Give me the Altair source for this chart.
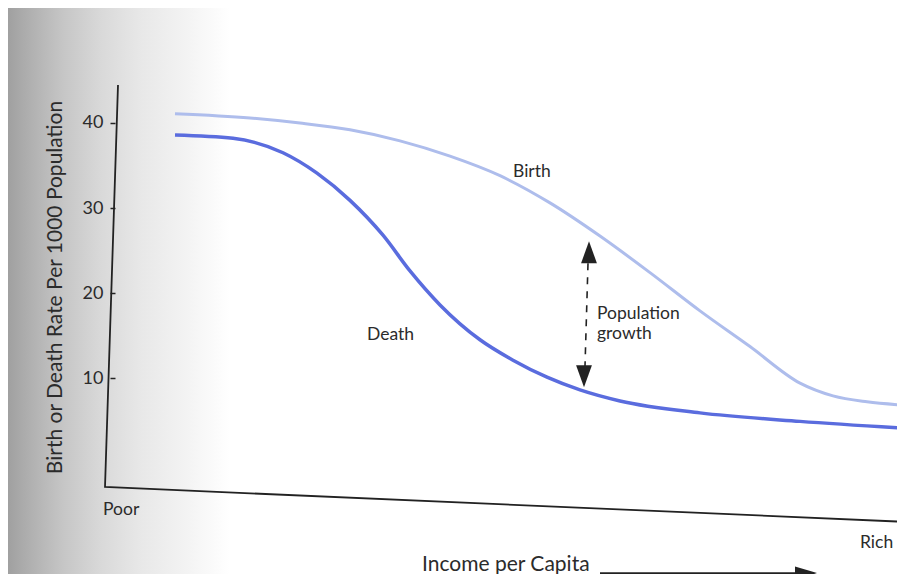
import altair as alt
import pandas as pd

# ---- data ----
income_birth = [58, 133, 183, 233, 283, 333, 383, 433, 483, 533, 583, 633, 683, 716, 750, 788]
birth_rate = [41.1, 40.6, 40.0, 39.2, 37.9, 36.1, 33.8, 30.6, 26.7, 22.4, 17.9, 13.7, 9.4, 7.9, 7.2, 6.8]
income_death = [58, 116, 166, 200, 233, 266, 293, 323, 363, 396, 430, 463, 503, 583, 683, 788]
death_rate = [38.6, 38.2, 36.5, 34.1, 30.9, 26.8, 22.6, 18.6, 14.5, 12.1, 10.1, 8.6, 7.3, 5.9, 4.9, 4.1]
y_ticks = [10, 20, 30, 40]

label_text = ["Birth", "Death", "Population", "growth", "Poor", "Rich"]
label_x = [396, 250, 480, 480, -14, 743]
label_y = [33.65, 14.47, 16.9, 14.55, -6.12, -10.0]

x_title = "Income per Capita"
x_title_pos = [305, -12.7]

# axis frame (the scan is slightly rotated)
frame_x = [1, -12, 780]
frame_y = [44.47, -2.82, -6.88]

# population growth arrow
growth_x = [471, 468]
growth_y = [23.5, 11.4]
head_x = [472, 467]
head_y = [24.8, 10.2]

# income arrow
inc_arrow_x = [483, 683]
inc_arrow_y = [-12.95, -12.95]
inc_head = [689, -12.95]

FONT = "Lato"
TXT = "#2b2b2b"
INK = "#222222"

xs = alt.Scale(domain=[-12, 780], nice=False, zero=False)
ys = alt.Scale(domain=[-7.29, 44.47], nice=False, zero=False)

birth_df = pd.DataFrame({"income": income_birth, "rate": birth_rate})
death_df = pd.DataFrame({"income": income_death, "rate": death_rate})
labels_df = pd.DataFrame({"text": label_text, "x": label_x, "rate": label_y})
xtitle_df = pd.DataFrame({"text": [x_title], "x": [x_title_pos[0]], "rate": [x_title_pos[1]]})
frame_df = pd.DataFrame({"x": frame_x, "rate": frame_y, "o": [0, 1, 2]})
growth_df = pd.DataFrame({"x": [growth_x[0]], "rate": [growth_y[0]], "x2": [growth_x[1]], "rate2": [growth_y[1]]})
inc_df = pd.DataFrame({"x": [inc_arrow_x[0]], "rate": [inc_arrow_y[0]], "x2": [inc_arrow_x[1]], "rate2": [inc_arrow_y[1]]})
heads_up_df = pd.DataFrame({"x": [head_x[0]], "rate": [head_y[0]]})
heads_down_df = pd.DataFrame({"x": [head_x[1]], "rate": [head_y[1]]})
inc_head_df = pd.DataFrame({"x": [inc_head[0]], "rate": [inc_head[1]]})

# scanned-page shading on the left
grad = alt.LinearGradient(
    gradient="linear",
    stops=[
        alt.GradientStop(offset=0, color="#a0a0a0"),
        alt.GradientStop(offset=0.1, color="#b0b0b0"),
        alt.GradientStop(offset=0.25, color="#c6c6c6"),
        alt.GradientStop(offset=0.42, color="#d9d9d9"),
        alt.GradientStop(offset=0.6, color="#e8e8e8"),
        alt.GradientStop(offset=0.8, color="#f3f3f3"),
        alt.GradientStop(offset=1, color="#ffffff"),
    ],
    x1=0, x2=1, y1=0, y2=0,
)
bg = alt.Chart(alt.Data(values=[{}])).mark_rect(fill=grad, strokeWidth=0).encode(
    x=alt.value(-97), x2=alt.value(125), y=alt.value(-77), y2=alt.value(489)
)

y_axis = alt.Axis(
    values=y_ticks,
    domain=False,
    grid=False,
    offset=-10,
    zindex=2,
    tickSize=5,
    tickWidth=1.5,
    tickColor=INK,
    labelPadding=7,
    labelFont=FONT,
    labelFontSize=18,
    labelColor=TXT,
    title="Birth or Death Rate Per 1000 Population",
    titleFont=FONT,
    titleFontSize=21,
    titleFontWeight="normal",
    titleColor=TXT,
    titleAngle=270,
    titleX=-54,
    titleY=202,
    titleAlign="center",
    titleBaseline="alphabetic",
)

X = lambda f: alt.X(f, scale=xs, axis=None)
Y = lambda f: alt.Y(f, scale=ys, axis=y_axis)

birth = alt.Chart(birth_df).mark_line(
    color="#aebdec", strokeWidth=3, interpolate="monotone", clip=True
).encode(x=X("income:Q"), y=Y("rate:Q"))

death = alt.Chart(death_df).mark_line(
    color="#5a6cde", strokeWidth=3.5, interpolate="monotone", clip=True
).encode(x=X("income:Q"), y=Y("rate:Q"))

frame = alt.Chart(frame_df).mark_line(color=INK, strokeWidth=1.8).encode(
    x=X("x:Q"), y=Y("rate:Q"), order="o:O"
)

labels = alt.Chart(labels_df).mark_text(
    align="left", baseline="alphabetic", font=FONT, fontSize=17.5, color=TXT
).encode(x=X("x:Q"), y=Y("rate:Q"), text="text:N")

xtitle = alt.Chart(xtitle_df).mark_text(
    align="left", baseline="alphabetic", font=FONT, fontSize=21, color=TXT
).encode(x=X("x:Q"), y=Y("rate:Q"), text="text:N")

growth_line = alt.Chart(growth_df).mark_rule(
    color=INK, strokeWidth=1.6, strokeDash=[7, 7]
).encode(x=X("x:Q"), y=Y("rate:Q"), x2="x2:Q", y2="rate2:Q")

head_up = alt.Chart(heads_up_df).mark_point(
    shape="M -0.72 1 L 0 -1 L 0.72 1 Z", size=484, filled=True, color=INK, opacity=1
).encode(x=X("x:Q"), y=Y("rate:Q"))
head_down = alt.Chart(heads_down_df).mark_point(
    shape="M -0.72 -1 L 0 1 L 0.72 -1 Z", size=484, filled=True, color=INK, opacity=1
).encode(x=X("x:Q"), y=Y("rate:Q"))

inc_line = alt.Chart(inc_df).mark_rule(color=INK, strokeWidth=1.6).encode(
    x=X("x:Q"), y=Y("rate:Q"), x2="x2:Q", y2="rate2:Q"
)
inc_head_c = alt.Chart(inc_head_df).mark_point(
    shape="M -1 -0.6 L 1 0 L -1 0.6 Z", size=484, filled=True, color=INK, opacity=1
).encode(x=X("x:Q"), y=Y("rate:Q"))

chart = alt.layer(
    bg, birth, death, frame, labels, xtitle, growth_line, head_up, head_down, inc_line, inc_head_c
).properties(
    width=792,
    height=440,
    padding={"left": 97, "top": 77, "right": 0, "bottom": 49},
    autosize=alt.AutoSizeParams(type="none"),
    background="white",
).configure_view(stroke=None)

chart.save("out.html", embed_options={"renderer": "svg", "actions": False})
